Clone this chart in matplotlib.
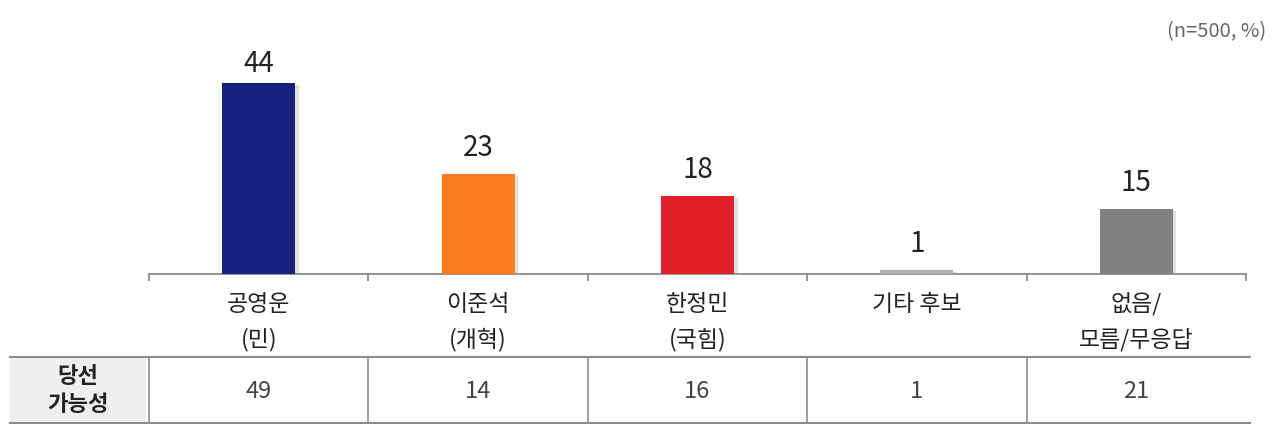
import matplotlib
matplotlib.use("Agg")
import matplotlib.pyplot as plt
import matplotlib.patheffects as pe
from matplotlib.patches import Rectangle
from matplotlib.lines import Line2D
import matplotlib.transforms as mtransforms

plt.rcParams['font.family'] = ['Noto Sans CJK KR', 'DejaVu Sans']

categories_line1 = ['공영운', '이준석', '한정민', '기타 후보', '없음/']
categories_line2 = ['(민)', '(개혁)', '(국힘)', '', '모름/무응답']
support = [44, 23, 18, 1, 15]
win_chance = [49, 14, 16, 1, 21]
bar_colors = ['#172280', '#FB7A1E', '#E3202A', '#B0B0B0', '#808080']
row_header = ['당선', '가능성']
note = '(n=500, %)'

W, H = 1280, 435
fig = plt.figure(figsize=(W / 100, H / 100), dpi=100)

def fx(px):
    return px / W

def fy(py):
    return (H - py) / H

px_per_unit = 4.34
ax_left, ax_right = 149, 1246
ax_bottom, ax_top = 275, 30
ax = fig.add_axes([fx(ax_left), fy(ax_bottom), fx(ax_right - ax_left), fy(ax_top) - fy(ax_bottom)])
x = list(range(len(support)))
bars = ax.bar(x, support, width=0.333, color=bar_colors, zorder=3)
for b in bars:
    b.set_path_effects([pe.SimplePatchShadow(offset=(2.5, -1.5), shadow_rgbFace='#888888', alpha=0.25), pe.Normal()])

ax.set_xlim(-0.5, len(support) - 0.5)
ax.set_ylim(0, (ax_bottom - ax_top) / px_per_unit)
for s in ['top', 'right', 'left']:
    ax.spines[s].set_visible(False)
ax.spines['bottom'].set_color('#8c8c8c')
ax.spines['bottom'].set_linewidth(1.3)
ax.set_yticks([])
ax.set_xticks([])
ax.set_xticks([i - 0.5 for i in range(len(support) + 1)], minor=True)
ax.tick_params(axis='x', which='minor', length=5, width=1.3, color='#8c8c8c', direction='out')
ax.set_xticklabels([], minor=True)

label_gap = 19 / px_per_unit
label_cap = (ax_bottom - 72) / px_per_unit
for xi, v in zip(x, support):
    ax.text(xi, min(v + label_gap, label_cap), str(v), ha='center', va='baseline',
            fontsize=20, color='#222222')

trans_cat = mtransforms.blended_transform_factory(ax.transData, fig.transFigure)
for xi, l1, l2 in zip(x, categories_line1, categories_line2):
    ax.text(xi, fy(305), l1, transform=trans_cat, ha='center', va='center', fontsize=16.5, color='#222222')
    if l2:
        ax.text(xi, fy(340), l2, transform=trans_cat, ha='center', va='center', fontsize=16.5, color='#222222')

# table
tbl_top, tbl_bot = 358, 424
tbl_left, tbl_right = 10, 1250
fig.patches.append(Rectangle((fx(tbl_left), fy(tbl_bot)), fx(146 - tbl_left), fy(tbl_top) - fy(tbl_bot),
                             transform=fig.transFigure, facecolor='#EFEFEF', edgecolor='none', zorder=0))
for yy in [tbl_top, tbl_bot]:
    fig.add_artist(Line2D([fx(tbl_left), fx(tbl_right)], [fy(yy), fy(yy)], transform=fig.transFigure,
                          color='#8c8c8c', linewidth=1.5))
trans_tbl = mtransforms.blended_transform_factory(ax.transData, fig.transFigure)
for i in range(len(support)):
    ax.add_line(Line2D([i - 0.5, i - 0.5], [fy(tbl_top), fy(tbl_bot)], transform=trans_tbl,
                       color='#8c8c8c', linewidth=1.2, clip_on=False))
for xi, v in zip(x, win_chance):
    ax.text(xi, fy(391.5), str(v), transform=trans_tbl, ha='center', va='center', fontsize=17, color='#444444')

fig.text(fx(78), fy(377), row_header[0], ha='center', va='center', fontsize=16, fontweight='bold', color='#222222')
fig.text(fx(78), fy(405), row_header[1], ha='center', va='center', fontsize=16, fontweight='bold', color='#222222')

fig.text(fx(1266), fy(32), note, ha='right', va='center', fontsize=14.5, color='#666666')

fig.savefig('out.png', dpi=100)
